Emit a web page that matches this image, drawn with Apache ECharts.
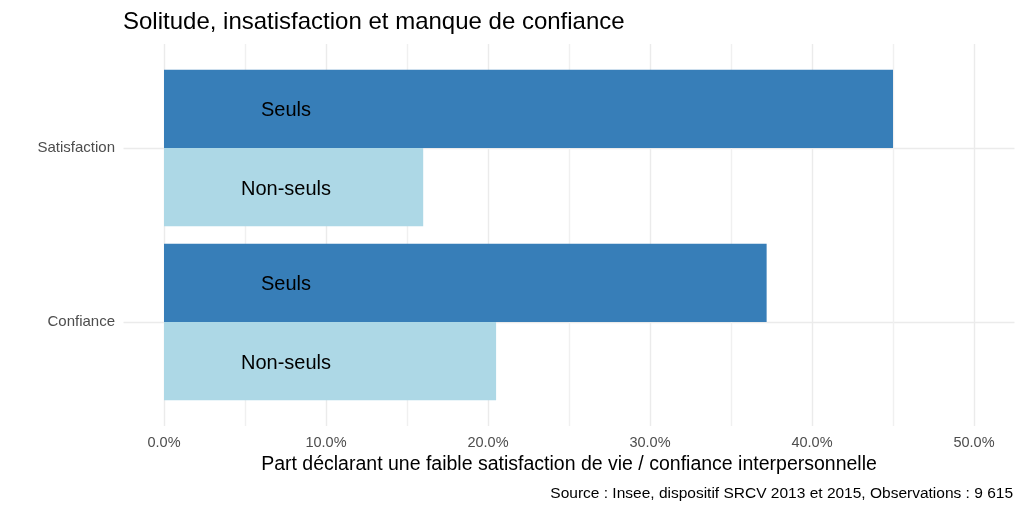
<!DOCTYPE html>
<html>
<head>
<meta charset="utf-8">
<script src="https://cdn.jsdelivr.net/npm/echarts@6/dist/echarts.min.js"></script>
<style>
  html, body { margin: 0; padding: 0; background: #fff; }
  #chart { width: 1024px; height: 512px; }
</style>
</head>
<body>
<div id="chart"></div>
<script>
// données
var categories = ['Satisfaction', 'Confiance'];
var seuls = [0.45, 0.372];
var nonSeuls = [0.16, 0.205];
var groupNames = ['Seuls', 'Non-seuls'];
var tickValues = [0, 0.1, 0.2, 0.3, 0.4, 0.5];

var FONT = '"Liberation Sans", Arial, sans-serif';
var chart = echarts.init(document.getElementById('chart'));

function pct(v) {
    // uniquement les graduations majeures
    var major = tickValues.some(function (t) { return Math.abs(t - v) < 1e-9; });
    return major ? (v * 100).toFixed(1) + '%' : '';
}

var barLabel = function (name) {
    return {
        show: true,
        position: [122, '50%'],
        offset: [0, 2],
        align: 'center',
        verticalAlign: 'middle',
        formatter: name,
        color: '#000',
        fontSize: 20,
        fontFamily: FONT
    };
};

chart.setOption({
    animation: false,
    title: {
        text: 'Solitude, insatisfaction et manque de confiance',
        left: 118,
        top: 5,
        textStyle: { fontSize: 24, fontWeight: 'normal', color: '#000', fontFamily: FONT }
    },
    grid: [
        // fond : lignes verticales
        { left: 164, right: 50, top: 44, height: 382 },
        // barres
        { left: 164, right: 50, top: 61, height: 348 },
        // lignes horizontales
        { left: 123.5, right: 9.5, top: 148, height: 174 }
    ],
    xAxis: [
        {
            gridIndex: 0, type: 'value', min: 0, max: 0.5, interval: 0.05,
            axisLine: { show: false }, axisTick: { show: false },
            axisLabel: { formatter: pct, color: '#4d4d4d', fontSize: 14.5, margin: 9, fontFamily: FONT, showMinLabel: true, showMaxLabel: true },
            splitLine: { show: true, lineStyle: { color: ['#ebebeb', '#f0f0f0'], width: 1.4 } }
        },
        {
            gridIndex: 1, type: 'value', min: 0, max: 0.5,
            axisLine: { show: false }, axisTick: { show: false }, axisLabel: { show: false }, splitLine: { show: false }
        },
        {
            gridIndex: 2, type: 'value', min: 0, max: 1,
            axisLine: { show: false }, axisTick: { show: false }, axisLabel: { show: false }, splitLine: { show: false }
        }
    ],
    yAxis: [
        {
            gridIndex: 0, type: 'value', min: 0, max: 1,
            axisLine: { show: false }, axisTick: { show: false }, axisLabel: { show: false }, splitLine: { show: false }
        },
        {
            gridIndex: 1, type: 'category', data: categories, inverse: true,
            axisLine: { show: false }, axisTick: { show: false }, splitLine: { show: false },
            axisLabel: { color: '#4d4d4d', fontSize: 15, margin: 49, fontFamily: FONT, padding: [4, 0, 0, 0] }
        },
        {
            gridIndex: 2, type: 'value', min: 0, max: 1, interval: 1,
            axisLine: { show: false }, axisTick: { show: false }, axisLabel: { show: false },
            splitLine: { show: true, lineStyle: { color: '#ebebeb', width: 1.4 } }
        }
    ],
    series: [
        {
            name: groupNames[0], type: 'bar', xAxisIndex: 1, yAxisIndex: 1,
            data: seuls, barGap: '0%', barCategoryGap: '10%',
            itemStyle: { color: '#377eb8' },
            label: barLabel(groupNames[0])
        },
        {
            name: groupNames[1], type: 'bar', xAxisIndex: 1, yAxisIndex: 1,
            data: nonSeuls, barGap: '0%', barCategoryGap: '10%',
            itemStyle: { color: '#add8e6' },
            label: barLabel(groupNames[1])
        }
    ],
    graphic: [
        {
            type: 'text', x: 569, y: 465,
            style: {
                text: 'Part déclarant une faible satisfaction de vie / confiance interpersonnelle',
                fill: '#000', fontSize: 19.5, fontFamily: FONT, align: 'center', verticalAlign: 'middle'
            }
        },
        {
            type: 'text', x: 1013, y: 494,
            style: {
                text: 'Source : Insee, dispositif SRCV 2013 et 2015, Observations : 9 615',
                fill: '#000', fontSize: 15.5, fontFamily: FONT, align: 'right', verticalAlign: 'middle'
            }
        }
    ]
});
</script>
</body>
</html>
